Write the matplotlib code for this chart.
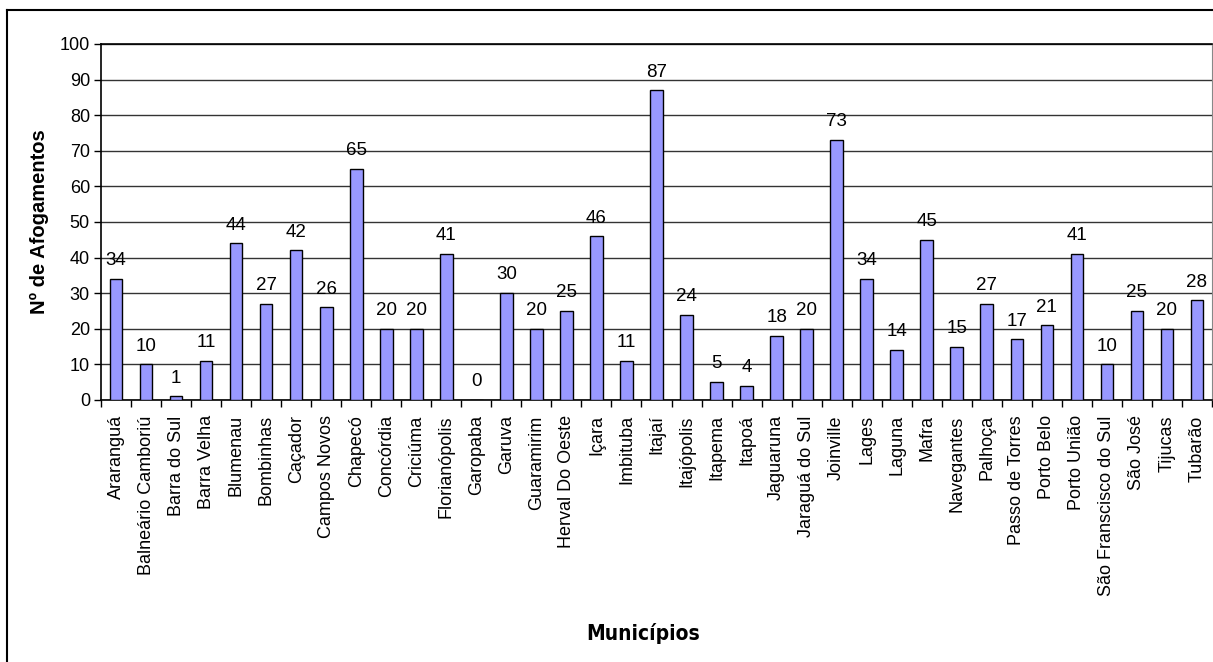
import matplotlib.pyplot as plt
import numpy as np
from matplotlib.lines import Line2D
from matplotlib import font_manager

municipios = ["Araranguá", "Balneário Camboriú", "Barra do Sul", "Barra Velha",
              "Blumenau", "Bombinhas", "Caçador", "Campos Novos", "Chapecó",
              "Concórdia", "Criciúma", "Florianópolis", "Garopaba", "Garuva",
              "Guaramirim", "Herval Do Oeste", "Içara", "Imbituba", "Itajaí",
              "Itajópolis", "Itapema", "Itapoá", "Jaguaruna", "Jaraguá do Sul",
              "Joinville", "Lages", "Laguna", "Mafra", "Navegantes", "Palhoça",
              "Passo de Torres", "Porto Belo", "Porto União",
              "São Franscisco do Sul", "São José", "Tijucas", "Tubarão"]
afogamentos = [34, 10, 1, 11, 44, 27, 42, 26, 65, 20, 20, 41, 0, 30, 20, 25,
               46, 11, 87, 24, 5, 4, 18, 20, 73, 34, 14, 45, 15, 27, 17, 21,
               41, 10, 25, 20, 28]

plt.rcParams['font.family'] = ['Liberation Sans', 'DejaVu Sans']

# narrow bold face for the x axis title, if one is around
narrow = None
for f in font_manager.findSystemFonts():
    name = f.lower()
    if "liberationsansnarrow-bold." in name.replace(" ", "") or \
       "dejavusanscondensed-bold." in name:
        narrow = f
        if "liberation" in name:
            break
if narrow:
    title_font = font_manager.FontProperties(fname=narrow, size=15)
else:
    title_font = font_manager.FontProperties(family="Liberation Sans",
                                             weight="bold", size=14)

fig = plt.figure(figsize=(12.13, 6.62), dpi=100)
ax = fig.add_axes([101 / 1213, 1 - 400 / 662, 1111 / 1213, 356 / 662])

x = np.arange(len(municipios))
bars = ax.bar(x, afogamentos, width=0.42, color="#9999FF",
              edgecolor="black", linewidth=1.0, zorder=3)
ax.bar_label(bars, labels=[str(v) for v in afogamentos], padding=7,
             fontsize=13.5, color="black")

ax.set_xlim(-0.5, len(municipios) - 0.5)
ax.set_ylim(0, 100)
ax.set_yticks(np.arange(0, 101, 10))
ax.yaxis.grid(True, color="#333333", linewidth=1.0, zorder=0)
ax.set_axisbelow(True)

# category labels in the middle, tick marks on the boundaries
ax.set_xticks(x)
ax.set_xticklabels(municipios, rotation=90, fontsize=13, va="top")
ax.tick_params(axis="x", which="major", length=0, pad=11)
ax.set_xticks(np.arange(-0.5, len(municipios), 1), minor=True)
ax.tick_params(axis="x", which="minor", length=5, width=1, direction="out")
ax.tick_params(axis="y", labelsize=13, length=5, width=1, direction="out", pad=3)

for side in ["left", "bottom", "top"]:
    ax.spines[side].set_color("black")
    ax.spines[side].set_linewidth(1.2)
ax.spines["right"].set_color("#888888")

ax.set_ylabel("Nº de Afogamentos", fontsize=14.5, fontweight="bold", labelpad=8)
fig.text(0.53, 1 - 633 / 662, "Municípios", ha="center", va="center",
         fontproperties=title_font)

# outer frame of the chart area
fig.add_artist(Line2D([7 / 1213, 7 / 1213], [0, 1 - 10 / 662],
                      transform=fig.transFigure, color="black", lw=1.5))
fig.add_artist(Line2D([7 / 1213, 1], [1 - 10 / 662, 1 - 10 / 662],
                      transform=fig.transFigure, color="black", lw=1.5))

fig.savefig("out.png", dpi=100)
